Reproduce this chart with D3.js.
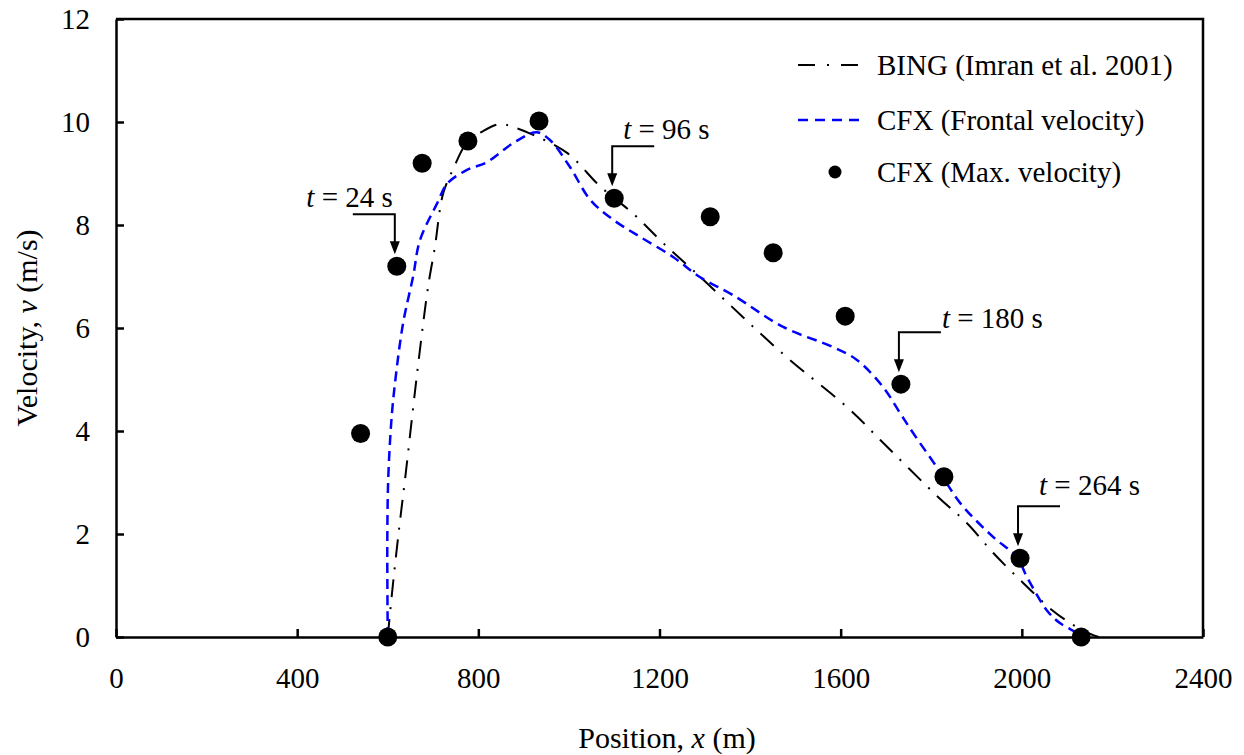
<!DOCTYPE html>
<html>
<head>
<meta charset="utf-8">
<script src="https://cdn.jsdelivr.net/npm/d3@7/dist/d3.min.js"></script>
<style>
  html, body { margin: 0; padding: 0; background: #fff; }
  svg { display: block; }
  svg text { font-family: "Liberation Serif", "Times New Roman", Times, "DejaVu Serif", serif; fill: #000; }
</style>
</head>
<body>
<svg id="chart" width="1244" height="755"></svg>
<script>
// ---- data ----
// BING model (Imran et al. 2001): front position (m) vs velocity (m/s)
const bingX = [600, 610, 625, 640, 656, 670, 689, 704, 722, 745, 775, 810, 848, 877, 921, 996, 1069, 1142, 1208, 1289, 1422, 1488, 1621, 1687, 1815, 1879, 1937, 2003, 2067, 2107, 2140, 2170];
const bingV = [0, 0.9, 2.1, 3.2, 4.45, 5.5, 6.8, 7.57, 8.6, 9.1, 9.6, 9.82, 9.96, 9.9, 9.75, 9.4, 8.75, 8.22, 7.65, 7.0, 5.9, 5.38, 4.41, 3.83, 2.72, 2.21, 1.63, 1.05, 0.52, 0.27, 0.1, 0];

// CFX frontal velocity
const frontX = [600, 599, 601, 608, 616, 634, 656, 671, 709, 731, 775, 819, 877, 929, 958, 1002, 1047, 1098, 1157, 1230, 1289, 1362, 1473, 1583, 1636, 1694, 1731, 1760, 1812, 1864, 1937, 1989, 2011, 2055, 2084, 2122, 2135];
const frontV = [0, 1.8, 3.05, 4.2, 4.93, 6.1, 7.0, 7.7, 8.42, 8.8, 9.07, 9.22, 9.59, 9.8, 9.65, 9.13, 8.49, 8.1, 7.77, 7.38, 6.99, 6.64, 6.02, 5.63, 5.38, 4.85, 4.35, 3.96, 3.3, 2.6, 1.94, 1.55, 1.17, 0.52, 0.27, 0.08, 0];

// CFX maximum velocity
const maxX = [540, 600, 620, 676, 777, 934, 1100, 1312, 1451, 1610, 1733, 1828, 1996, 2131];
const maxV = [3.95, 0, 7.2, 9.2, 9.63, 10.02, 8.52, 8.16, 7.46, 6.23, 4.91, 3.11, 1.53, 0];

// time callouts: time (s) and the max-velocity point they mark
const calloutTimes = [24, 96, 180, 264];
const calloutIndex = [2, 6, 10, 12];

const xTicks = [0, 400, 800, 1200, 1600, 2000, 2400];
const yTicks = [0, 2, 4, 6, 8, 10, 12];

const legendLabels = ["BING (Imran et al. 2001)", "CFX (Frontal velocity)", "CFX (Max. velocity)"];

// ---- layout ----
const svg = d3.select("#chart");
const mLeft = 116, mRight = 1203, mTop = 19, mBottom = 637;
const FS = 29;
const SERIF = '"Liberation Serif", "Times New Roman", Times, "DejaVu Serif", serif';

const x = d3.scaleLinear().domain([0, 2400]).range([mLeft, mRight]);
const y = d3.scaleLinear().domain([0, 12]).range([mBottom, mTop]);

// frame (top and right edges)
svg.append("path")
  .attr("d", `M${mLeft},${mTop}H${mRight}V${mBottom}`)
  .attr("fill", "none").attr("stroke", "#000").attr("stroke-width", 2.5);

// axes with inward ticks
const xAxis = svg.append("g").attr("transform", `translate(0,${mBottom})`)
  .call(d3.axisBottom(x).tickValues(xTicks).tickFormat(d3.format("d"))
    .tickSizeInner(-8).tickSizeOuter(0).tickPadding(30));
const yAxis = svg.append("g").attr("transform", `translate(${mLeft},0)`)
  .call(d3.axisLeft(y).tickValues(yTicks).tickFormat(d3.format("d"))
    .tickSizeInner(-8).tickSizeOuter(0).tickPadding(26));
[xAxis, yAxis].forEach(g => {
  g.attr("font-family", SERIF).attr("font-size", FS);
  g.select(".domain").attr("stroke", "#000").attr("stroke-width", 2.5);
  g.selectAll(".tick line").attr("stroke", "#000").attr("stroke-width", 2.5);
  g.selectAll(".tick text").style("font-family", SERIF).attr("font-size", FS).attr("fill", "#000");
});
xAxis.selectAll(".tick text").attr("dy", "0.71em");

// axis titles
svg.append("text").attr("x", 667).attr("y", 748).attr("text-anchor", "middle").attr("font-size", 30)
  .style("font-family", SERIF)
  .call(t => { t.append("tspan").text("Position, "); t.append("tspan").attr("font-style", "italic").text("x"); t.append("tspan").text(" (m)"); });
svg.append("text").attr("transform", `translate(37,${(mTop + mBottom) / 2}) rotate(-90)`)
  .attr("text-anchor", "middle").attr("font-size", 30).style("font-family", SERIF)
  .call(t => { t.append("tspan").text("Velocity, "); t.append("tspan").attr("font-style", "italic").text("v"); t.append("tspan").text(" (m/s)"); });

// series lines
const line = d3.line().x(d => x(d[0])).y(d => y(d[1])).curve(d3.curveCatmullRom.alpha(0.5));
const plot = svg.append("g");

plot.append("path").datum(d3.zip(bingX, bingV)).attr("d", line)
  .attr("fill", "none").attr("stroke", "#000").attr("stroke-width", 2)
  .attr("stroke-dasharray", "18,10,2,10");

plot.append("path").datum(d3.zip(frontX, frontV)).attr("d", line)
  .attr("fill", "none").attr("stroke", "#0000ff").attr("stroke-width", 2.5)
  .attr("stroke-dasharray", "10,6");

plot.selectAll("circle.max").data(d3.zip(maxX, maxV)).join("circle")
  .attr("class", "max").attr("cx", d => x(d[0])).attr("cy", d => y(d[1])).attr("r", 9.5).attr("fill", "#000");

// callouts: leader line with arrow down to the point, and "t = .. s" label
const textOffsets = [[-4, -59, "end"], [9, -59, "start"], [41, -56, "start"], [19, -63, "start"]];
const legDir = [-1, 1, 1, 1];
calloutTimes.forEach((tVal, i) => {
  const k = calloutIndex[i];
  const px = x(maxX[k]), py = y(maxV[k]);
  const cornerY = py - 52, tipY = py - 12, ax = px - 2;
  const g = svg.append("g");
  g.append("path").attr("d", `M${ax + legDir[i] * 42},${cornerY}H${ax}V${tipY - 12}`)
    .attr("fill", "none").attr("stroke", "#000").attr("stroke-width", 2);
  g.append("path").attr("d", `M${ax - 5},${tipY - 13}L${ax + 5},${tipY - 13}L${ax},${tipY}Z`).attr("fill", "#000");
  const [dx, dy, anchor] = textOffsets[i];
  g.append("text").attr("x", px + dx).attr("y", py + dy).attr("text-anchor", anchor).attr("font-size", FS)
    .style("font-family", SERIF)
    .call(t => { t.append("tspan").attr("font-style", "italic").text("t"); t.append("tspan").text(` = ${tVal} s`); });
});

// legend
const legX0 = 798, legX1 = 860, legTextX = 877;
const legRows = [65, 120, 172];
const leg = svg.append("g");
leg.append("line").attr("x1", legX0).attr("x2", legX1).attr("y1", legRows[0]).attr("y2", legRows[0])
  .attr("stroke", "#000").attr("stroke-width", 2).attr("stroke-dasharray", "17,12,2,12");
leg.append("line").attr("x1", legX0).attr("x2", legX1).attr("y1", legRows[1]).attr("y2", legRows[1])
  .attr("stroke", "#0000ff").attr("stroke-width", 2.5).attr("stroke-dasharray", "10,7");
leg.append("circle").attr("cx", 835).attr("cy", legRows[2]).attr("r", 6.5).attr("fill", "#000");
legendLabels.forEach((lab, i) => {
  leg.append("text").attr("x", legTextX).attr("y", legRows[i]).attr("dy", "0.33em").attr("font-size", FS)
    .style("font-family", SERIF).text(lab);
});
</script>
</body>
</html>
